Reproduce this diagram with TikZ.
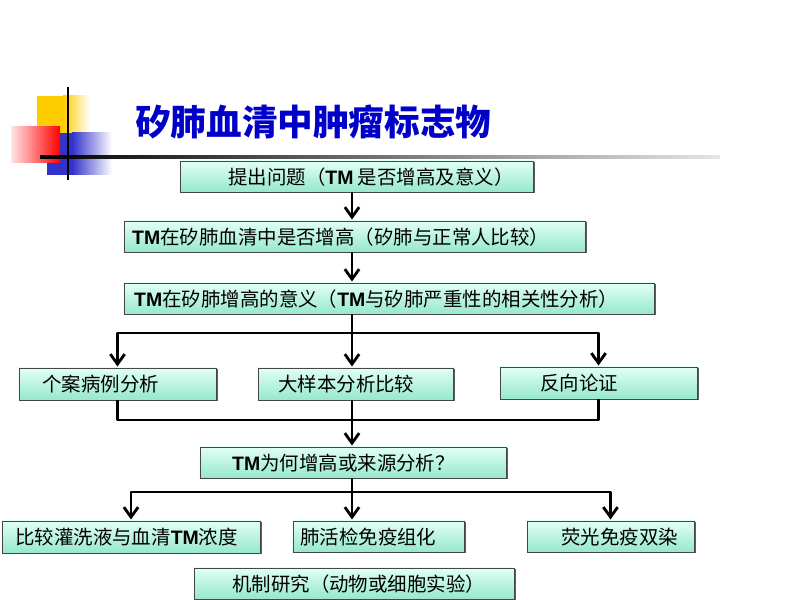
\documentclass[tikz,border=0pt]{standalone}
\usepackage{fontspec}
\setmainfont{Noto Sans CJK SC}
\newfontfamily\cjk{Noto Sans CJK SC}
\newfontfamily\tmfont{Liberation Sans}
\usetikzlibrary{arrows.meta,shadows}
\definecolor{titleblue}{RGB}{0,0,200}
\definecolor{boxtop}{RGB}{225,255,245}
\definecolor{boxbot}{RGB}{150,232,205}
\definecolor{decoyellow}{RGB}{255,204,0}
\definecolor{decoblue}{RGB}{51,51,204}
\definecolor{decored}{RGB}{255,0,0}
\newcommand{\tmx}{{\tmfont\bfseries TM}}
\tikzset{
  box/.style={draw=gray!55!black, line width=0.5pt, top color=boxtop, bottom color=boxbot,
    minimum height=0.93cm, inner sep=0pt,
    drop shadow={shadow xshift=1.3pt, shadow yshift=-0.9pt, fill=gray!60!black, opacity=0.9}},
  lbl/.style={anchor=west, inner sep=0pt, font=\cjk\fontsize{16.6}{18}\selectfont},
  con/.style={line width=2.4pt, line join=round},
  arr/.style={con, -{Straight Barb[length=3.0mm, width=4.3mm]}, shorten >=1pt},
}
\begin{document}
\begin{tikzpicture}[x=0.03cm, y=-0.03cm]
\useasboundingbox (0,0) rectangle (800,600);
\fill[white] (0,0) rectangle (800,600);
% decoration
\fill[decoyellow] (37,96) rectangle (63,134);
\shade[left color=decoyellow, right color=white] (63,96) rectangle (90,134);
\fill[decoblue] (47,133) rectangle (72,175);
\shade[left color=decoblue, right color=white] (72,133) rectangle (112,175);
\shade[left color=decored!10, right color=decored] (11,127) rectangle (60,163);
\shade[left color=black, middle color=gray!80!black, right color=gray!20] (40,155.5) rectangle (720,158.5);
\fill[black] (67,87) rectangle (69.2,180);
% title
\node[anchor=west, inner sep=0pt, text=titleblue, font=\cjk\bfseries\fontsize{30.4}{34}\selectfont] (title) at (135,122) {矽肺血清中肿瘤标志物};
% boxes
\node[box, minimum width=10.59cm] (b1) at (356.5,176.5) {};
\node[box, minimum width=13.83cm] (b2) at (354.5,236.5) {};
\node[box, minimum width=15.9cm] (b3) at (389,298.5) {};
\node[box, minimum width=5.91cm, minimum height=0.96cm] (b4) at (117.5,384) {};
\node[box, minimum width=5.85cm, minimum height=0.96cm] (b5) at (355.5,384) {};
\node[box, minimum width=5.91cm, minimum height=0.96cm] (b6) at (598.5,383) {};
\node[box, minimum width=9.18cm] (b7) at (353,462.5) {};
\node[box, minimum width=7.74cm, minimum height=0.96cm] (b8) at (131,537) {};
\node[box, minimum width=5.13cm] (b9) at (378.5,536.5) {};
\node[box, minimum width=5.01cm] (b10) at (610.5,536.5) {};
\node[box, minimum width=9.6cm] (b11) at (354,583.5) {};
% labels
\node[lbl] (t1) at (228,177) {提出问题（\tmx{} 是否增高及意义）};
\node[lbl] (t2) at (132,237) {\tmx{}在矽肺血清中是否增高（矽肺与正常人比较）};
\node[lbl] (t3) at (134,299) {\tmx{}在矽肺增高的意义（\tmx{}与矽肺严重性的相关性分析）};
\node[lbl] (t4) at (42,384) {个案病例分析};
\node[lbl] (t5) at (278,384) {大样本分析比较};
\node[lbl] (t6) at (540,383) {反向论证};
\node[lbl] (t7) at (232,463) {\tmx{}为何增高或来源分析？};
\node[lbl] (t8) at (15,537) {比较灌洗液与血清\tmx{}浓度};
\node[lbl] (t9) at (300,537) {肺活检免疫组化};
\node[lbl] (t10) at (561,537) {荧光免疫双染};
\node[lbl] (t11) at (232,584) {机制研究（动物或细胞实验）};
% connectors
\coordinate (sp) at (352,0);
\coordinate (j1) at (352,333);
\coordinate (j2) at (352,420);
\coordinate (j3) at (352,492);
\draw[arr] (b1.south -| sp) -- (b2.north -| sp);
\draw[arr] (b2.south -| sp) -- (b3.north -| sp);
\draw[con] (b3.south -| sp) -- (j1);
\draw[arr] (j1) -| (b4.north);
\draw[arr] (j1) -| (b6.north);
\draw[arr] (j1) -- (b5.north -| sp);
\draw[con] (b4.south) |- (j2) -| (b6.south);
\draw[con] (b5.south -| sp) -- (j2);
\draw[arr] (j2) -- (b7.north -| sp);
\draw[con] (b7.south -| sp) -- (j3);
\draw[arr] (j3) -| (b8.north);
\draw[arr] (j3) -| (b10.north);
\draw[arr] (j3) -- (b9.north -| sp);
\end{tikzpicture}
\end{document}
